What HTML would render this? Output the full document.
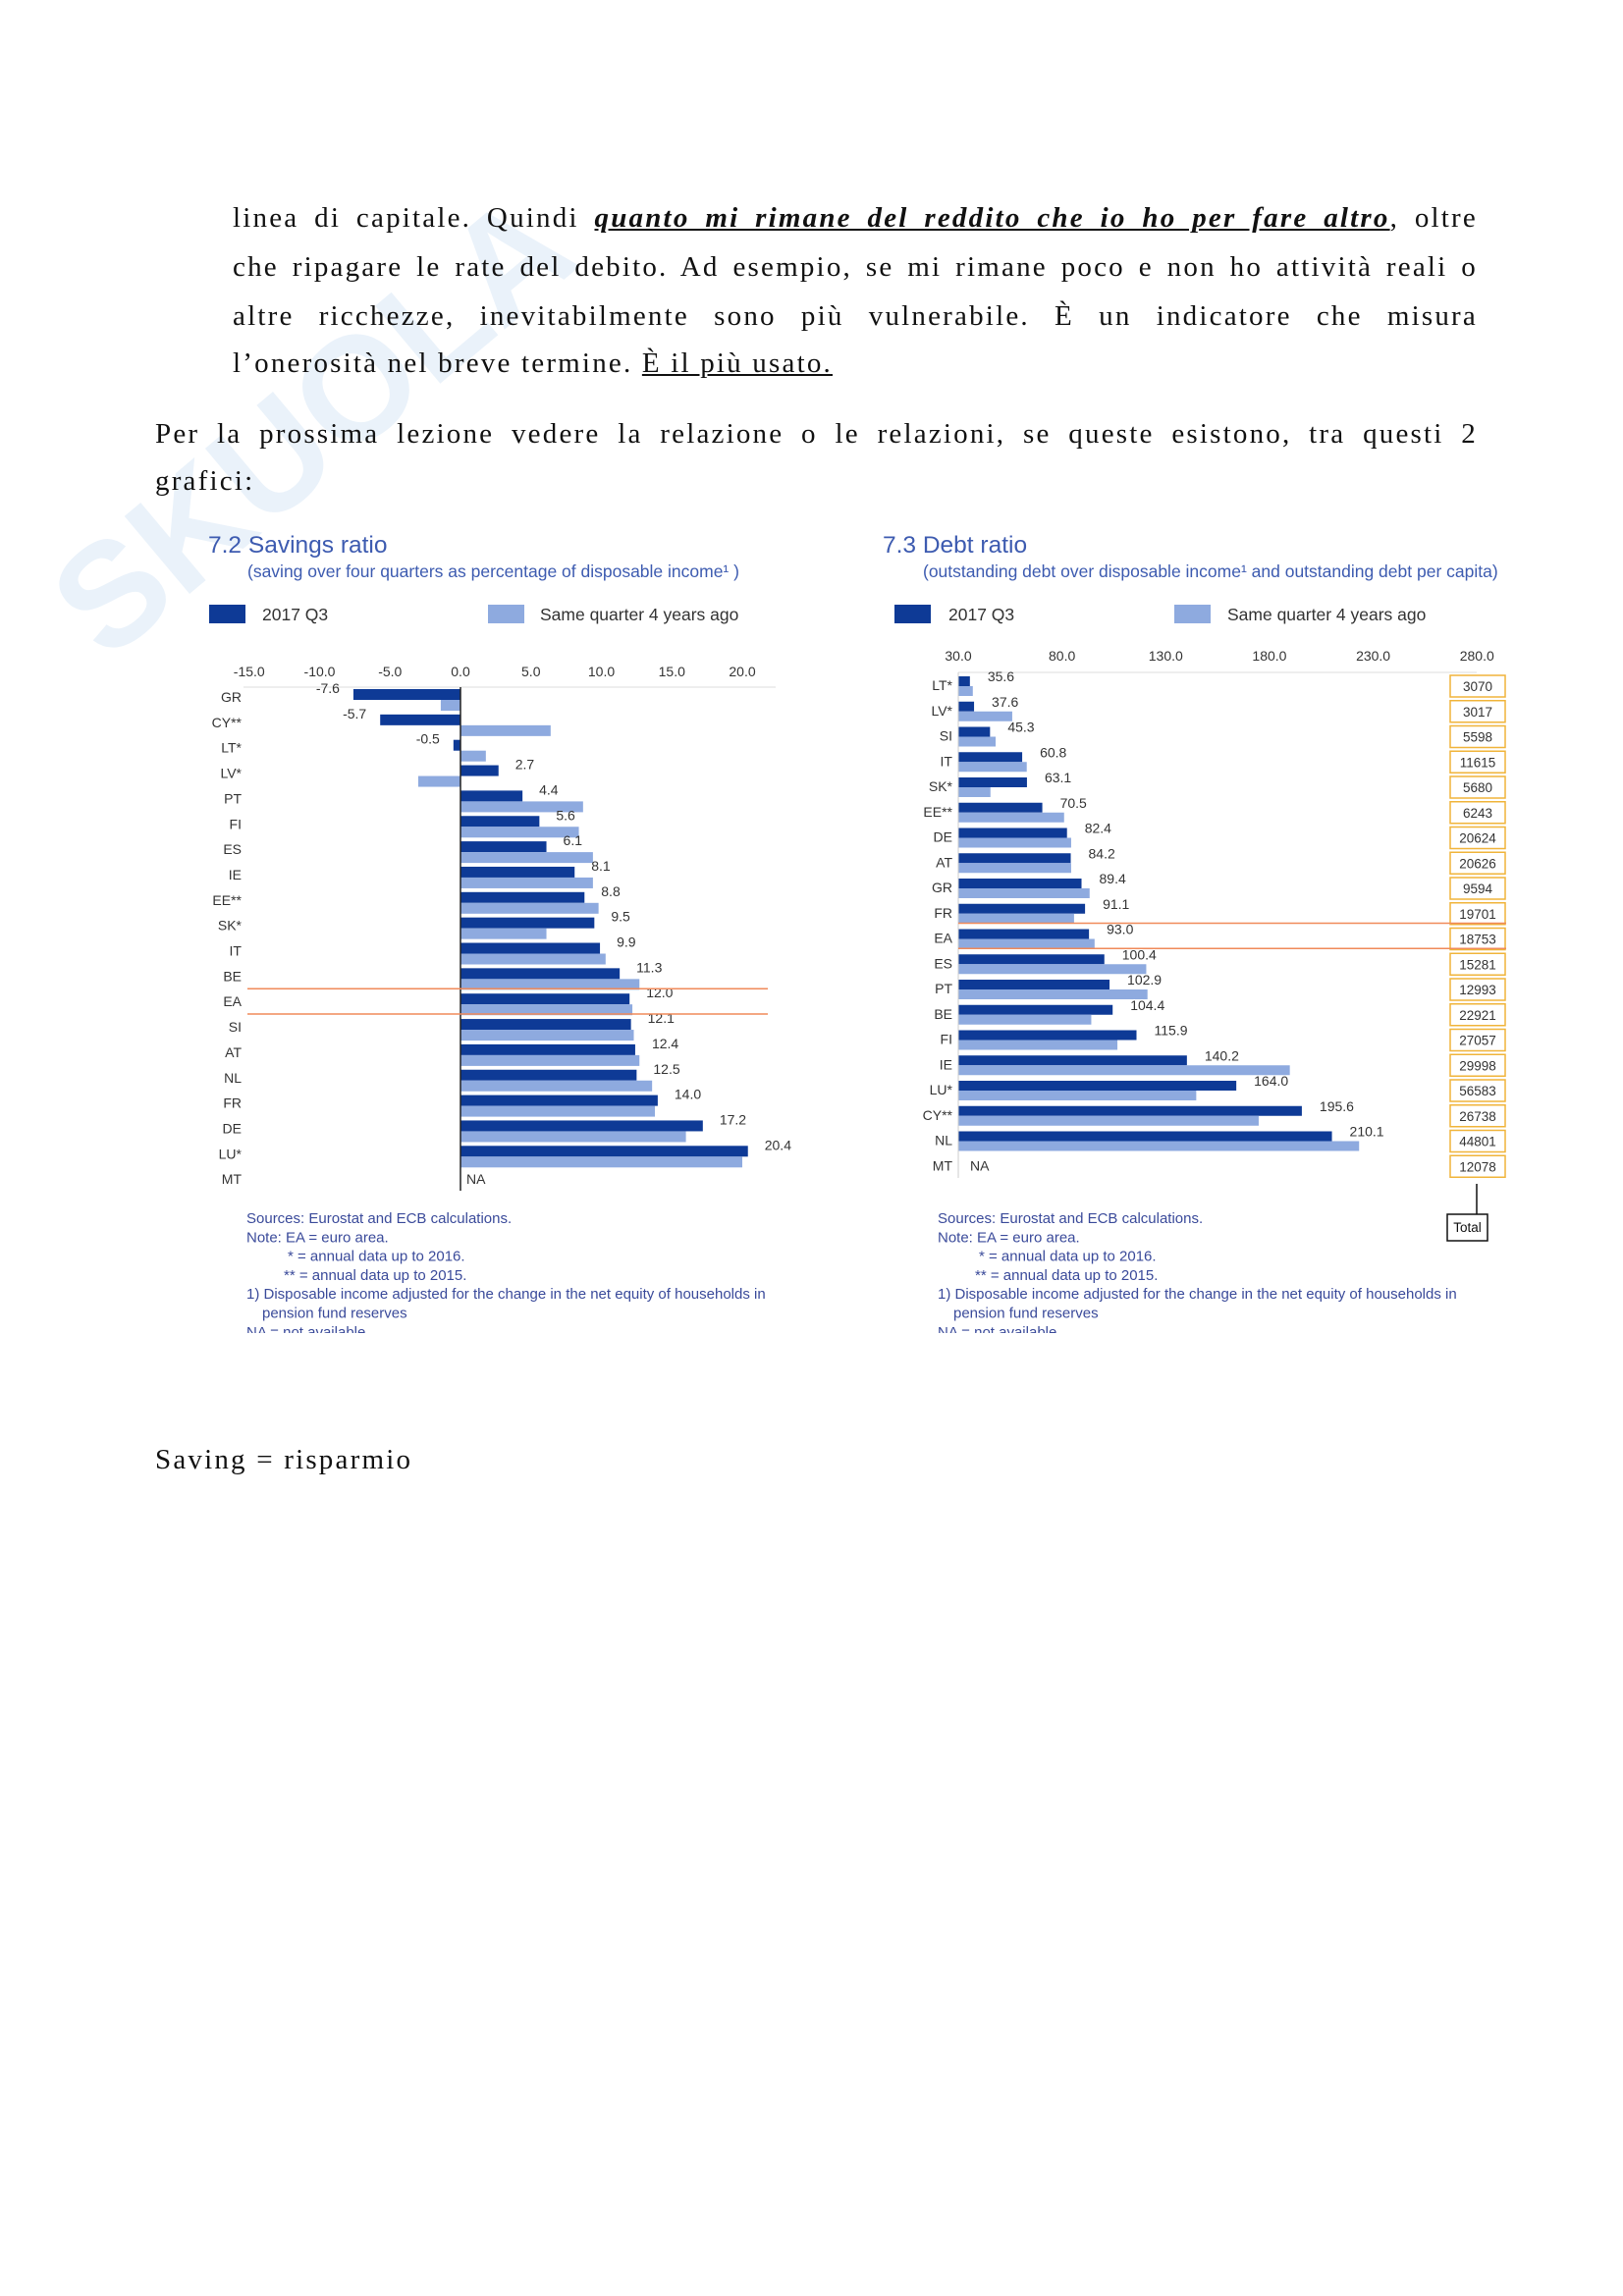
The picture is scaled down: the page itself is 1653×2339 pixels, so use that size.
<!DOCTYPE html>
<html><head><meta charset="utf-8"><style>
html,body{margin:0;padding:0;background:#fff}
body{width:1653px;height:2339px;position:relative;overflow:hidden;font-family:"Liberation Serif",serif}
.p{position:absolute;font-size:29px;letter-spacing:2.2px;color:#111;line-height:32px;white-space:nowrap}
.j{text-align:justify;text-align-last:justify;white-space:normal}
svg text{font-family:"Liberation Sans",sans-serif}
</style></head><body>
<div style="position:absolute;left:20px;font:bold 150px 'Liberation Sans',sans-serif;color:#e6f0f9;transform:rotate(-40deg);transform-origin:0 0;top:570px;opacity:.8">SKUOLA</div>
<div class="p j" style="left:237px;top:206px;width:1268px">linea di capitale. Quindi <b><i><u>quanto mi rimane del reddito che io ho per fare altro</u></i></b>, oltre</div>
<div class="p j" style="left:237px;top:256px;width:1268px">che ripagare le rate del debito. Ad esempio, se mi rimane poco e non ho attività reali o</div>
<div class="p j" style="left:237px;top:306px;width:1268px">altre ricchezze, inevitabilmente sono più vulnerabile. È un indicatore che misura</div>
<div class="p" style="left:237px;top:354px">l’onerosità nel breve termine. <u>È il più usato.</u></div>
<div class="p j" style="left:158px;top:426px;width:1347px">Per la prossima lezione vedere la relazione o le relazioni, se queste esistono, tra questi 2</div>
<div class="p" style="left:158px;top:474px">grafici:</div>
<div class="p" style="left:158px;top:1471px">Saving = risparmio</div>

<svg id="ch" width="1653" height="2339" style="position:absolute;left:0;top:0">
<g id="s"></g><g id="d"></g>
<rect x="200" y="1358" width="1400" height="30" fill="#fff"/>
</svg>
<script>
const sCats=["GR","CY**","LT*","LV*","PT","FI","ES","IE","EE**","SK*","IT","BE","EA","SI","AT","NL","FR","DE","LU*","MT"];
const sNow=[-7.6,-5.7,-0.5,2.7,4.4,5.6,6.1,8.1,8.8,9.5,9.9,11.3,12.0,12.1,12.4,12.5,14.0,17.2,20.4,null];
const sAgo=[-1.4,6.4,1.8,-3.0,8.7,8.4,9.4,9.4,9.8,6.1,10.3,12.7,12.2,12.3,12.7,13.6,13.8,16.0,20.0,null];
const sTicks=[-15,-10,-5,0,5,10,15,20];
const dCats=["LT*","LV*","SI","IT","SK*","EE**","DE","AT","GR","FR","EA","ES","PT","BE","FI","IE","LU*","CY**","NL","MT"];
const dNow=[35.6,37.6,45.3,60.8,63.1,70.5,82.4,84.2,89.4,91.1,93.0,100.4,102.9,104.4,115.9,140.2,164.0,195.6,210.1,null];
const dAgo=[37,56,48,63,45.5,81,84.4,84.4,93.3,85.8,95.7,120.6,121.2,94.1,106.7,189.8,144.7,174.8,223.2,null];
const dTotal=["3070","3017","5598","11615","5680","6243","20624","20626","9594","19701","18753","15281","12993","22921","27057","29998","56583","26738","44801","12078"];
const dTicks=[30,80,130,180,230,280];

const NS="http://www.w3.org/2000/svg";
const DARK="#0e3a96",LIGHT="#8eaadf",BLUE="#3d5bb0",ORANGE="#f08a5a";
function mk(p,tag,a,txt){const e=document.createElementNS(NS,tag);for(const k in a)e.setAttribute(k,a[k]);if(txt!=null)e.textContent=txt;p.appendChild(e);return e;}
function fmt(v){return v.toFixed(1);}

function header(g,x,title,subX,sub,sw1,t1,sw2,t2){
  let e=mk(g,"text",{x:x,y:563,"font-size":24.5,fill:BLUE},title);
  
  e=mk(g,"text",{x:subX,y:588,"font-size":17.5,fill:BLUE},sub);
  
  e=mk(g,"rect",{x:sw1,y:616,width:37,height:19,fill:DARK});
  
  e=mk(g,"text",{x:t1,y:632,"font-size":17.5,fill:"#333"},"2017 Q3");
  
  e=mk(g,"rect",{x:sw2,y:616,width:37,height:19,fill:LIGHT});
  
  e=mk(g,"text",{x:t2,y:632,"font-size":17.5,fill:"#333"},"Same quarter 4 years ago");
  
}
function notes(g,x,y){
  const L=[[0,"Sources: Eurostat and ECB calculations."],[0,"Note: EA = euro area."],[42,"* = annual data up to 2016."],[38,"** = annual data up to 2015."],[0,"1) Disposable income adjusted for the change in the net equity of households in"],[16,"pension fund reserves"],[0,"NA = not available"]];
  L.forEach((l,i)=>{const e=mk(g,"text",{x:x+l[0],y:y+i*19.3,"font-size":15,fill:"#3a4a9a"},l[1]);
    });
}

// Savings chart
(function(){
  const g=document.getElementById("s");
  header(g,212,"7.2 Savings ratio",252,"(saving over four quarters as percentage of disposable income¹ )",213,267,497,550);
  const x=v=>469+v*14.35, y0=702, pitch=25.85, bh=11;
  sTicks.forEach(t=>{const e=mk(g,"text",{x:x(t),y:689,"font-size":14,fill:"#333","text-anchor":"middle"},fmt(t));
    });
  let e=mk(g,"line",{x1:248,x2:790,y1:700,y2:700,stroke:"#ddd","stroke-width":1});
  
  sCats.forEach((c,i)=>{
    const yt=y0+i*pitch;
    let e=mk(g,"text",{x:246,y:yt+13,"font-size":14,fill:"#333","text-anchor":"end"},c);
    
    const v=sNow[i],a=sAgo[i];
    if(v==null){e=mk(g,"text",{x:x(0)+6,y:yt+13,"font-size":14,fill:"#333"},"NA");
      return;}
    e=mk(g,"rect",{x:Math.min(x(0),x(v)),y:yt,width:Math.abs(x(v)-x(0)),height:bh,fill:DARK});
    
    e=mk(g,"rect",{x:Math.min(x(0),x(a)),y:yt+bh,width:Math.abs(x(a)-x(0)),height:bh,fill:LIGHT});
    
    e=v<0?mk(g,"text",{x:x(v)-14,y:yt+4,"font-size":14,fill:"#333","text-anchor":"end"},fmt(v))
         :mk(g,"text",{x:x(v)+17,y:yt+4,"font-size":14,fill:"#333"},fmt(v));
    
  });
  e=mk(g,"line",{x1:x(0),x2:x(0),y1:700,y2:1213,stroke:"#222","stroke-width":1.5});
  
  const ea=sCats.indexOf("EA");
  [y0+ea*pitch-5,y0+(ea+1)*pitch-5].forEach(yy=>{e=mk(g,"line",{x1:252,x2:782,y1:yy,y2:yy,stroke:ORANGE,"stroke-width":1.5});
    });
  notes(g,251,1246);
})();

// Debt chart
(function(){
  const g=document.getElementById("d");
  header(g,899,"7.3 Debt ratio",940,"(outstanding debt over disposable income¹ and outstanding debt per capita)",911,966,1196,1250);
  const x=v=>976+(v-30)*2.113, y0=689, pitch=25.75, bh=10;
  dTicks.forEach(t=>{const e=mk(g,"text",{x:x(t),y:673,"font-size":14,fill:"#333","text-anchor":"middle"},fmt(t));
    });
  let e=mk(g,"line",{x1:976,x2:1504,y1:685,y2:685,stroke:"#ddd","stroke-width":1});
  
  dCats.forEach((c,i)=>{
    const yt=y0+i*pitch, yc=yt+bh;
    let e=mk(g,"text",{x:970,y:yt+14,"font-size":14,fill:"#333","text-anchor":"end"},c);
    
    e=mk(g,"rect",{x:1477,y:yc-11,width:56,height:22,fill:"#fff",stroke:"#f0b43a","stroke-width":1.5});
    
    e=mk(g,"text",{x:1505,y:yc+5,"font-size":13.5,fill:"#333","text-anchor":"middle"},dTotal[i]);
    
    const v=dNow[i],a=dAgo[i];
    if(v==null){e=mk(g,"text",{x:x(30)+12,y:yt+14,"font-size":14,fill:"#333"},"NA");
      return;}
    e=mk(g,"rect",{x:x(30),y:yt,width:x(v)-x(30),height:bh,fill:DARK});
    
    e=mk(g,"rect",{x:x(30),y:yt+bh,width:x(a)-x(30),height:bh,fill:LIGHT});
    
    e=mk(g,"text",{x:x(v)+18,y:yt+5,"font-size":14,fill:"#333"},fmt(v));
    
  });
  e=mk(g,"line",{x1:976,x2:976,y1:685,y2:1200,stroke:"#ccc","stroke-width":1});
  
  const ea=dCats.indexOf("EA");
  [y0+ea*pitch-6,y0+(ea+1)*pitch-6].forEach(yy=>{e=mk(g,"line",{x1:976,x2:1534,y1:yy,y2:yy,stroke:ORANGE,"stroke-width":1.5});
    });
  e=mk(g,"line",{x1:1504,x2:1504,y1:1206,y2:1237,stroke:"#111","stroke-width":1.5});
  
  e=mk(g,"rect",{x:1474,y:1237,width:41,height:27,fill:"#fff",stroke:"#111","stroke-width":1.5});
  
  e=mk(g,"text",{x:1494.5,y:1255,"font-size":13.5,fill:"#111","text-anchor":"middle"},"Total");
  
  notes(g,955,1246);
})();
</script>
</body></html>
